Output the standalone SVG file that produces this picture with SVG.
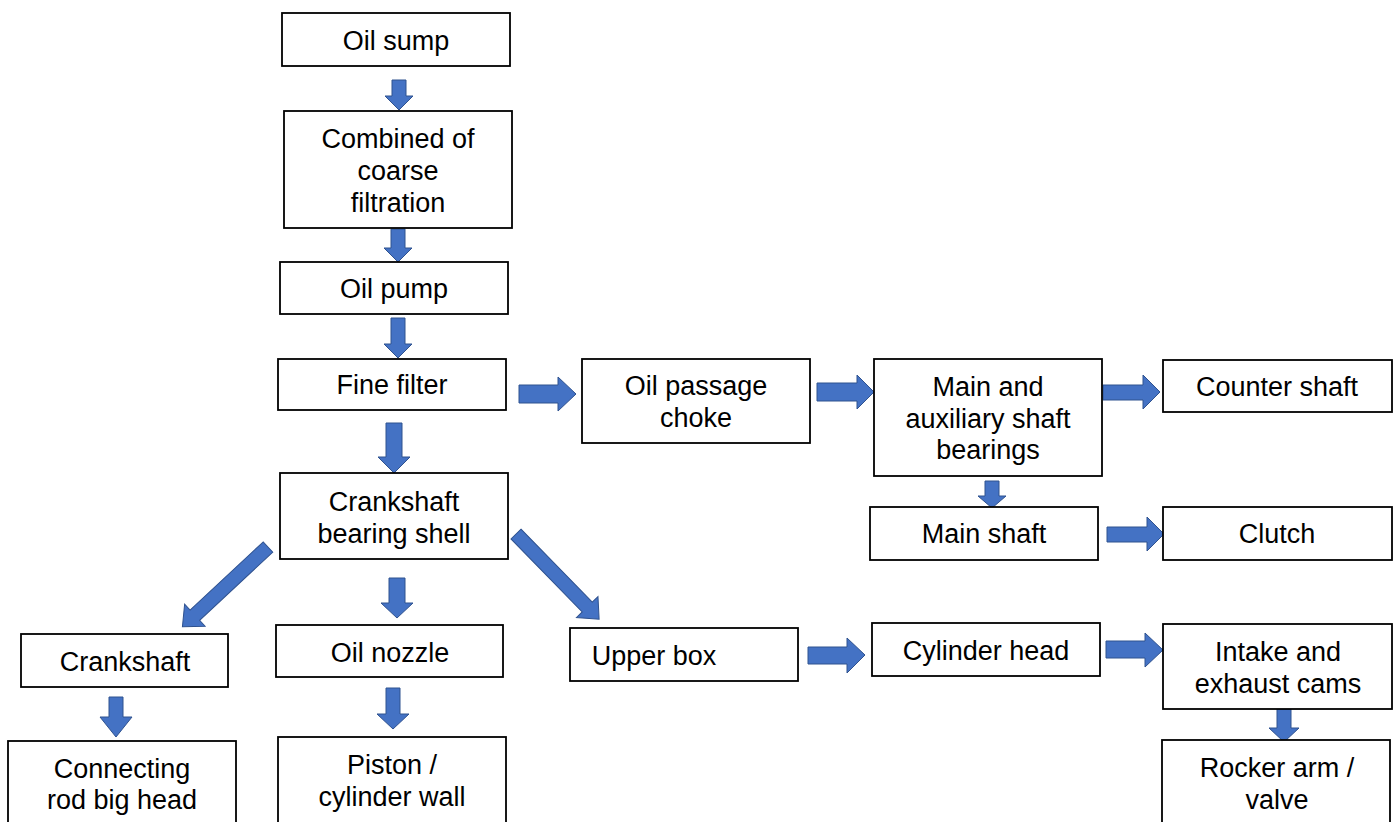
<svg xmlns="http://www.w3.org/2000/svg" width="1400" height="822" viewBox="0 0 1400 822">
<style>
.box{fill:#fff;stroke:#000;stroke-width:1.8}
.t{font-family:"Liberation Sans",Arial,sans-serif;font-size:27px;fill:#000;text-anchor:middle}
.ar{fill:#4472C4;stroke:#2F528F;stroke-width:1}
</style>
<rect width="1400" height="822" fill="#fff"/>
<g id="connectors">
<path class="ar" d="M392,80 H406 V96 H413 L399,110 L385,96 H392 Z"/>
<path class="ar" d="M391,229 H405 V248 H412 L398,262 L384,248 H391 Z"/>
<path class="ar" d="M391,318 H405 V344 H412 L398,358 L384,344 H391 Z"/>
<path class="ar" d="M386,423 H402 V457 H410 L394,473 L378,457 H386 Z"/>
<path class="ar" d="M389,578 H405 V603 H413 L397,618 L381,603 H389 Z"/>
<path class="ar" d="M109,697 H123 V717 H132 L116,737 L100,717 H109 Z"/>
<path class="ar" d="M386,688 H400 V714 H409 L393,729 L377,714 H386 Z"/>
<path class="ar" d="M985,481 H999 V496 H1006 L992,508 L978,496 H985 Z"/>
<path class="ar" d="M1277,703 H1291 V728 H1299 L1284,742 L1269,728 H1277 Z"/>
<path class="ar" d="M519,385 V403 H558 V411 L576,394 L558,377 V385 Z"/>
<path class="ar" d="M817,383 V401 H857 V409 L874,392 L857,375 V383 Z"/>
<path class="ar" d="M1103,385 V400 H1143 V409 L1160,392 L1143,375 V385 Z"/>
<path class="ar" d="M1107,527 V542 H1147 V551 L1164,534 L1147,517 V527 Z"/>
<path class="ar" d="M808,647 V664 H847 V673 L865,655 L847,638 V647 Z"/>
<path class="ar" d="M1106,641 V658 H1145 V667 L1163,650 L1145,633 V641 Z"/>
<path class="ar" transform="translate(268,547) rotate(137)" d="M0,-7 H100 V-15 L117,0 L100,15 V7 H0 Z"/>
<path class="ar" transform="translate(516,534) rotate(45.7)" d="M0,-7 H102 V-15 L119,0 L102,15 V7 H0 Z"/>
</g>
<g id="oil-sump"><rect class="box" x="282" y="13" width="228" height="53"/><text class="t" x="396" y="50">Oil sump</text></g>
<g id="combined"><rect class="box" x="284" y="111" width="228" height="117"/><text class="t" x="398" y="148">Combined of</text><text class="t" x="398" y="180">coarse</text><text class="t" x="398" y="212">filtration</text></g>
<g id="oil-pump"><rect class="box" x="280" y="262" width="228" height="52"/><text class="t" x="394" y="298">Oil pump</text></g>
<g id="fine-filter"><rect class="box" x="278" y="359" width="228" height="51"/><text class="t" x="392" y="394">Fine filter</text></g>
<g id="crankshaft-bearing"><rect class="box" x="280" y="473" width="228" height="86"/><text class="t" x="394" y="511">Crankshaft</text><text class="t" x="394" y="543">bearing shell</text></g>
<g id="crankshaft"><rect class="box" x="21" y="634" width="207" height="53"/><text class="t" x="125" y="671">Crankshaft</text></g>
<g id="oil-nozzle"><rect class="box" x="276" y="625" width="227" height="52"/><text class="t" x="390" y="662">Oil nozzle</text></g>
<g id="upper-box"><rect class="box" x="570" y="628" width="228" height="53"/><text class="t" x="654" y="665">Upper box</text></g>
<g id="connecting-rod"><rect class="box" x="8" y="741" width="228" height="95"/><text class="t" x="122" y="778">Connecting</text><text class="t" x="122" y="809">rod big head</text></g>
<g id="piston"><rect class="box" x="278" y="737" width="228" height="99"/><text class="t" x="392" y="774">Piston /</text><text class="t" x="392" y="806">cylinder wall</text></g>
<g id="oil-passage-choke"><rect class="box" x="582" y="359" width="228" height="84"/><text class="t" x="696" y="395">Oil passage</text><text class="t" x="696" y="427">choke</text></g>
<g id="main-aux-bearings"><rect class="box" x="874" y="359" width="228" height="117"/><text class="t" x="988" y="396">Main and</text><text class="t" x="988" y="428">auxiliary shaft</text><text class="t" x="988" y="459">bearings</text></g>
<g id="counter-shaft"><rect class="box" x="1163" y="360" width="229" height="52"/><text class="t" x="1277" y="396">Counter shaft</text></g>
<g id="main-shaft"><rect class="box" x="870" y="507" width="228" height="53"/><text class="t" x="984" y="543">Main shaft</text></g>
<g id="clutch"><rect class="box" x="1163" y="507" width="229" height="53"/><text class="t" x="1277" y="543">Clutch</text></g>
<g id="cylinder-head"><rect class="box" x="872" y="623" width="228" height="53"/><text class="t" x="986" y="660">Cylinder head</text></g>
<g id="intake-exhaust-cams"><rect class="box" x="1163" y="624" width="229" height="85"/><text class="t" x="1278" y="661">Intake and</text><text class="t" x="1278" y="693">exhaust cams</text></g>
<g id="rocker-arm"><rect class="box" x="1162" y="740" width="228" height="96"/><text class="t" x="1277" y="777">Rocker arm /</text><text class="t" x="1277" y="809">valve</text></g>
</svg>
